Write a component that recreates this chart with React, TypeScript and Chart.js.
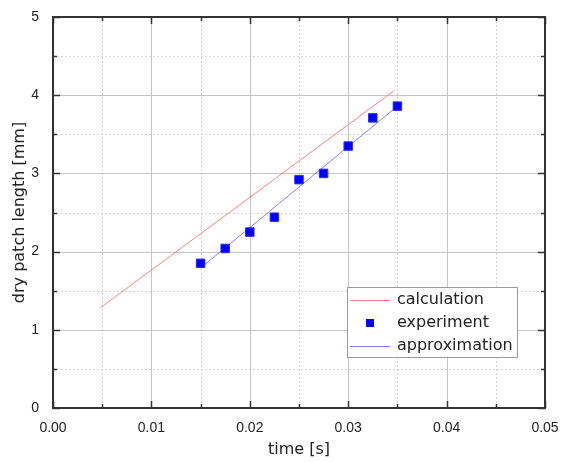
import React, { useEffect, useRef } from "react";
import { Chart, registerables } from "chart.js";

Chart.register(...registerables);

// ---- data ----
const calcX = [0.0048, 0.0347];
const calcY = [1.28, 4.06];
const expX = [0.015, 0.0175, 0.02, 0.0225, 0.025, 0.0275, 0.03, 0.0325, 0.035];
const expY = [1.85, 2.04, 2.25, 2.44, 2.92, 3.0, 3.35, 3.71, 3.86];
const approxX = [0.015, 0.035];
const approxY = [1.79, 3.86];

const xMajorTicks = [0, 0.01, 0.02, 0.03, 0.04, 0.05];
const xMinorTicks = [0.005, 0.015, 0.025, 0.035, 0.045];
const yMajorTicks = [0, 1, 2, 3, 4, 5];
const yMinorTicks = [0.5, 1.5, 2.5, 3.5, 4.5];
const legendLabels = ["calculation", "experiment", "approximation"];

const xTitle = "time [s]";
const yTitle = "dry patch length [mm]";

const RED = "#ff8080";
const BLUE_LINE = "#8080ff";
const BLUE = "#0000ff";
const TEXT = "#222222";

const gridPlugin = {
  id: "customGrid",
  beforeDatasetsDraw(chart: any) {
    const { ctx, chartArea: a, scales } = chart;
    const x = scales.x;
    const y = scales.y;
    ctx.save();
    ctx.lineWidth = 1;
    // minor dotted
    ctx.strokeStyle = "#d4d4d4";
    ctx.setLineDash([2, 2]);
    ctx.beginPath();
    for (const v of xMinorTicks) {
      const px = Math.round(x.getPixelForValue(v)) + 0.5;
      ctx.moveTo(px, a.top);
      ctx.lineTo(px, a.bottom);
    }
    for (const v of yMinorTicks) {
      const py = Math.round(y.getPixelForValue(v)) + 0.5;
      ctx.moveTo(a.left, py);
      ctx.lineTo(a.right, py);
    }
    ctx.stroke();
    // major solid
    ctx.setLineDash([]);
    ctx.strokeStyle = "#c4c4c4";
    ctx.beginPath();
    for (const v of xMajorTicks) {
      const px = Math.round(x.getPixelForValue(v)) + 0.5;
      ctx.moveTo(px, a.top);
      ctx.lineTo(px, a.bottom);
    }
    for (const v of yMajorTicks) {
      const py = Math.round(y.getPixelForValue(v)) + 0.5;
      ctx.moveTo(a.left, py);
      ctx.lineTo(a.right, py);
    }
    ctx.stroke();
    ctx.restore();
  },
  afterDatasetsDraw(chart: any) {
    const { ctx, chartArea: a, scales } = chart;
    const x = scales.x;
    const y = scales.y;
    ctx.save();
    ctx.strokeStyle = "#333333";
    ctx.lineWidth = 1.5;
    ctx.beginPath();
    const tick = (list: number[], len: number) => {
      for (const v of list) {
        const px = Math.round(x.getPixelForValue(v)) + 0.5;
        ctx.moveTo(px, a.bottom);
        ctx.lineTo(px, a.bottom - len);
        ctx.moveTo(px, a.top);
        ctx.lineTo(px, a.top + len);
      }
    };
    const tickY = (list: number[], len: number) => {
      for (const v of list) {
        const py = Math.round(y.getPixelForValue(v)) + 0.5;
        ctx.moveTo(a.left, py);
        ctx.lineTo(a.left + len, py);
        ctx.moveTo(a.right, py);
        ctx.lineTo(a.right - len, py);
      }
    };
    tick(xMajorTicks, 7);
    tick(xMinorTicks, 4);
    tickY(yMajorTicks, 7);
    tickY(yMinorTicks, 4);
    ctx.stroke();
    ctx.lineWidth = 2;
    ctx.strokeRect(a.left, a.top, a.right - a.left, a.bottom - a.top);
    ctx.restore();
  },
  afterDraw(chart: any) {
    const { ctx, chartArea: a } = chart;
    const left = a.right - 198;
    const top = a.bottom - 121;
    const w = 170;
    const h = 70;
    ctx.save();
    ctx.fillStyle = "#ffffff";
    ctx.fillRect(left, top, w, h);
    ctx.strokeStyle = "#9a9a9a";
    ctx.lineWidth = 1;
    ctx.strokeRect(Math.round(left) + 0.5, Math.round(top) + 0.5, w, h);
    const rows = [top + 13, top + 36, top + 59];
    // calculation line
    ctx.strokeStyle = RED;
    ctx.beginPath();
    ctx.moveTo(left + 3, Math.round(rows[0]) + 0.5);
    ctx.lineTo(left + 43, Math.round(rows[0]) + 0.5);
    ctx.stroke();
    // experiment marker
    ctx.fillStyle = BLUE;
    ctx.fillRect(left + 19, rows[1] - 4, 8, 8);
    // approximation line
    ctx.strokeStyle = BLUE_LINE;
    ctx.beginPath();
    ctx.moveTo(left + 3, Math.round(rows[2]) + 0.5);
    ctx.lineTo(left + 43, Math.round(rows[2]) + 0.5);
    ctx.stroke();
    ctx.fillStyle = TEXT;
    ctx.font = '16px "DejaVu Sans"';
    ctx.textBaseline = "middle";
    ctx.textAlign = "left";
    legendLabels.forEach((t, i) => ctx.fillText(t, left + 50, rows[i]));
    ctx.restore();
  },
};

export default function App() {
  const ref = useRef<HTMLCanvasElement>(null);
  useEffect(() => {
    if (!ref.current) return;
    const chart = new Chart(ref.current, {
      type: "scatter",
      data: {
        datasets: [
          {
            label: legendLabels[0],
            data: calcX.map((v, i) => ({ x: v, y: calcY[i] })),
            showLine: true,
            borderColor: RED,
            borderWidth: 1,
            pointRadius: 0,
            order: 1,
          },
          {
            label: legendLabels[1],
            data: expX.map((v, i) => ({ x: v, y: expY[i] })),
            showLine: false,
            pointStyle: "rect",
            pointRadius: 6,
            backgroundColor: BLUE,
            borderColor: "#2a2aff",
            borderWidth: 1,
            order: 0,
          },
          {
            label: legendLabels[2],
            data: approxX.map((v, i) => ({ x: v, y: approxY[i] })),
            showLine: true,
            borderColor: BLUE_LINE,
            borderWidth: 1,
            pointRadius: 0,
            order: 2,
          },
        ],
      },
      options: {
        animation: false,
        responsive: true,
        maintainAspectRatio: false,
        layout: { padding: { left: 0, right: 18, top: 17, bottom: 0 } },
        plugins: {
          legend: { display: false },
          tooltip: { enabled: false },
        },
        scales: {
          x: {
            type: "linear",
            min: 0,
            max: 0.05,
            grid: { display: false },
            border: { display: false },
            ticks: {
              stepSize: 0.01,
              padding: 4,
              color: TEXT,
              font: { family: '"Liberation Sans", Arial, sans-serif', size: 14 },
              callback: (v: any) => Number(v).toFixed(2),
            },
            title: {
              display: true,
              text: xTitle,
              color: TEXT,
              font: { family: '"DejaVu Sans"', size: 16 },
              padding: { top: 0, bottom: 3 },
            },
            afterFit: (s: any) => {
              s.height = 54;
              s.paddingLeft = 0;
              s.paddingRight = 0;
            },
          },
          y: {
            type: "linear",
            min: 0,
            max: 5,
            grid: { display: false },
            border: { display: false },
            ticks: {
              stepSize: 1,
              padding: 6,
              color: TEXT,
              font: { family: '"Liberation Sans", Arial, sans-serif', size: 14 },
            },
            title: {
              display: true,
              text: yTitle,
              color: TEXT,
              font: { family: '"DejaVu Sans"', size: 16 },
              padding: { top: 10, bottom: 0 },
            },
            afterFit: (s: any) => {
              s.width = 53;
              s.paddingTop = 0;
              s.paddingBottom = 0;
            },
          },
        },
      },
      plugins: [gridPlugin],
    });
    return () => chart.destroy();
  }, []);
  return (
    <div
      style={{
        position: "fixed",
        left: 0,
        top: 0,
        width: 563,
        height: 462,
        background: "#ffffff",
      }}
    >
      <canvas ref={ref} />
    </div>
  );
}
